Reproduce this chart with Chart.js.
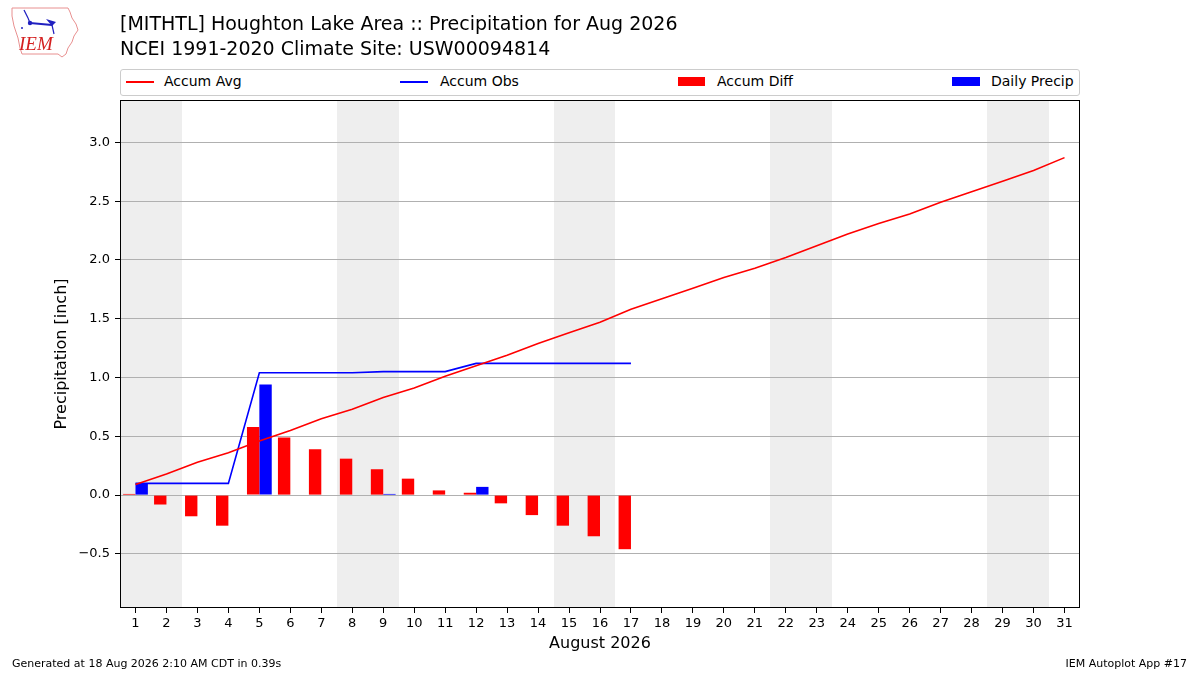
<!DOCTYPE html>
<html>
<head>
<meta charset="utf-8">
<title>Houghton Lake Area Precipitation Aug 2026</title>
<script src="https://cdn.jsdelivr.net/npm/chart.js@4.4.1/dist/chart.umd.min.js"></script>
<style>
  body { margin: 0; background: #fff; font-family: 'DejaVu Sans', sans-serif; color: #000; }
  #wrap { position: relative; width: 1200px; height: 675px; overflow: hidden; }
  #myChart { position: absolute; left: 0; top: 0; }
  .title { position: absolute; left: 120px; top: 11px; font-size: 19px; line-height: 24.5px; white-space: nowrap; }
  .legend { position: absolute; left: 120px; top: 69px; width: 958px; height: 25px; border: 1px solid #cccccc; border-radius: 3px; background: #fff; }
  .legend span { position: absolute; font-size: 14px; top: 3px; white-space: nowrap; }
  .legend i { position: absolute; display: block; }
  .foot { position: absolute; font-size: 11px; top: 657px; white-space: nowrap; }
  #logo { position: absolute; left: 8px; top: 4px; }
</style>
</head>
<body>
<div id="wrap">
  <canvas id="myChart" width="1200" height="675"></canvas>
  <svg id="logo" width="74" height="56" viewBox="0 0 74 56">
    <polyline points="4,4 60,4 62,8 64,14 68,20 70,26 66,32 64,38 60,44 58,50 54,53 50,50 14,50 12,44 10,34 6,22 4,12 4,4"
      fill="none" stroke="#e89090" stroke-width="1"/>
    <line x1="16" y1="6" x2="20" y2="14" stroke="#2020c0" stroke-width="1.2"/>
    <line x1="20" y1="14" x2="22" y2="19" stroke="#2020c0" stroke-width="1.2"/>
    <line x1="22" y1="19" x2="44" y2="21" stroke="#2020c0" stroke-width="2"/>
    <circle cx="22" cy="19" r="2.2" fill="#2020c0"/>
    <polygon points="38,15 48,18 44,22" fill="#2020c0"/>
    <line x1="44" y1="21" x2="46" y2="30" stroke="#2020c0" stroke-width="1.2"/>
    <circle cx="14" cy="24" r="1" fill="#2020c0"/>
    <text x="11" y="46" font-family="'Liberation Serif', serif" font-style="italic" font-size="19" fill="#d42020">IEM</text>
  </svg>
  <div class="title">[MITHTL] Houghton Lake Area :: Precipitation for Aug 2026<br>NCEI 1991-2020 Climate Site: USW00094814</div>
  <div class="legend">
    <i style="left:5px; top:11px; width:28px; height:2px; background:#ff0000;"></i>
    <span style="left:43px;">Accum Avg</span>
    <i style="left:279px; top:11px; width:28px; height:2px; background:#0000ff;"></i>
    <span style="left:319px;">Accum Obs</span>
    <i style="left:557px; top:7px; width:27px; height:9px; background:#ff0000;"></i>
    <span style="left:596px;">Accum Diff</span>
    <i style="left:831px; top:7px; width:28px; height:9px; background:#0000ff;"></i>
    <span style="left:870px;">Daily Precip</span>
  </div>
  <div class="foot" style="left:12px;">Generated at 18 Aug 2026 2:10 AM CDT in 0.39s</div>
  <div class="foot" style="right:13px;">IEM Autoplot App #17</div>
</div>
<script>
// day of month labels
const days = ['1', '2', '3', '4', '5', '6', '7', '8', '9', '10', '11', '12', '13', '14', '15', '16',
  '17', '18', '19', '20', '21', '22', '23', '24', '25', '26', '27', '28', '29', '30', '31'];
// weekend days get the grey band
const weekendDays = [1, 2, 8, 9, 15, 16, 22, 23, 29, 30];
const yTicks = [-0.5, 0, 0.5, 1.0, 1.5, 2.0, 2.5, 3.0];

const accumAvg = [0.09, 0.18, 0.28, 0.36, 0.46, 0.55, 0.65, 0.73, 0.83, 0.91, 1.01, 1.10, 1.19, 1.29, 1.38, 1.47,
  1.58, 1.67, 1.76, 1.85, 1.93, 2.02, 2.12, 2.22, 2.31, 2.39, 2.49, 2.58, 2.67, 2.76, 2.87];
const accumObs = [0.10, 0.10, 0.10, 0.10, 1.04, 1.04, 1.04, 1.04, 1.05, 1.05, 1.05, 1.12, 1.12, 1.12, 1.12, 1.12,
  1.12, null, null, null, null, null, null, null, null, null, null, null, null, null, null];
const accumDiff = [0.01, -0.08, -0.18, -0.26, 0.58, 0.49, 0.39, 0.31, 0.22, 0.14, 0.04, 0.02, -0.07, -0.17, -0.26, -0.35,
  -0.46, null, null, null, null, null, null, null, null, null, null, null, null, null, null];
const dailyPrecip = [0.10, 0, 0, 0, 0.94, 0, 0, 0, 0.01, 0, 0, 0.07, 0, 0, 0, 0,
  0, null, null, null, null, null, null, null, null, null, null, null, null, null, null];

Chart.defaults.font.family = "'DejaVu Sans', sans-serif";
Chart.defaults.color = '#000';

const weekendBands = {
  id: 'weekendBands',
  beforeDraw(chart) {
    const { ctx, chartArea, scales } = chart;
    const xs = scales.x;
    const w = xs.getPixelForValue(1) - xs.getPixelForValue(0);
    ctx.save();
    ctx.fillStyle = '#eeeeee';
    weekendDays.forEach(d => {
      const c = xs.getPixelForValue(d - 1);
      const x0 = Math.round(c - w / 2), x1 = Math.round(c + w / 2);
      ctx.fillRect(x0, chartArea.top, x1 - x0, chartArea.bottom - chartArea.top);
    });
    ctx.restore();
  }
};

const frame = {
  id: 'frame',
  afterDraw(chart) {
    const { ctx, chartArea } = chart;
    ctx.save();
    ctx.strokeStyle = '#000';
    ctx.lineWidth = 1;
    ctx.strokeRect(chartArea.left + 0.5, chartArea.top + 0.5,
      chartArea.right - chartArea.left - 1, chartArea.bottom - chartArea.top - 1);
    ctx.restore();
  }
};

const ctx = document.getElementById('myChart');
new Chart(ctx, {
  data: {
    labels: days,
    datasets: [
      { type: 'line', label: 'Accum Avg', data: accumAvg, borderColor: '#ff0000', borderWidth: 1.6,
        pointRadius: 0, tension: 0, order: 0 },
      { type: 'line', label: 'Accum Obs', data: accumObs, borderColor: '#0000ff', borderWidth: 1.6,
        pointRadius: 0, tension: 0, order: 0 },
      { type: 'bar', label: 'Accum Diff', data: accumDiff, backgroundColor: '#ff0000', borderWidth: 0,
        categoryPercentage: 0.8, barPercentage: 1.0, order: 1 },
      { type: 'bar', label: 'Daily Precip', data: dailyPrecip, backgroundColor: '#0000ff', borderWidth: 0,
        categoryPercentage: 0.8, barPercentage: 1.0, order: 1 }
    ]
  },
  options: {
    responsive: false,
    animation: false,
    devicePixelRatio: 1,
    layout: { padding: { top: 100, right: 120, left: 0, bottom: 0 } },
    plugins: { legend: { display: false }, tooltip: { enabled: false } },
    scales: {
      x: {
        type: 'category',
        offset: true,
        grid: { offset: false, drawOnChartArea: false, drawTicks: true, tickLength: 5, tickColor: '#000' },
        border: { display: false },
        ticks: { font: { size: 13 }, padding: 3, maxRotation: 0, autoSkip: false },
        title: { display: true, text: 'August 2026', font: { size: 16 }, padding: { top: 0, bottom: 22 } },
        afterFit(scale) { scale.height = 67; }
      },
      y: {
        min: -0.96,
        max: 3.36,
        afterBuildTicks(scale) { scale.ticks = yTicks.map(v => ({ value: v })); },
        grid: { color: '#b0b0b0', tickColor: '#000', tickLength: 5, lineWidth: 1 },
        border: { display: false },
        ticks: {
          font: { size: 13 }, padding: 5,
          callback: v => v.toFixed(1).replace('-', '\u2212')
        },
        title: { display: true, text: 'Precipitation [inch]', font: { size: 16 }, padding: { top: 52, bottom: 0 } },
        afterFit(scale) { scale.width = 120; }
      }
    }
  },
  plugins: [weekendBands, frame]
});
</script>
</body>
</html>
